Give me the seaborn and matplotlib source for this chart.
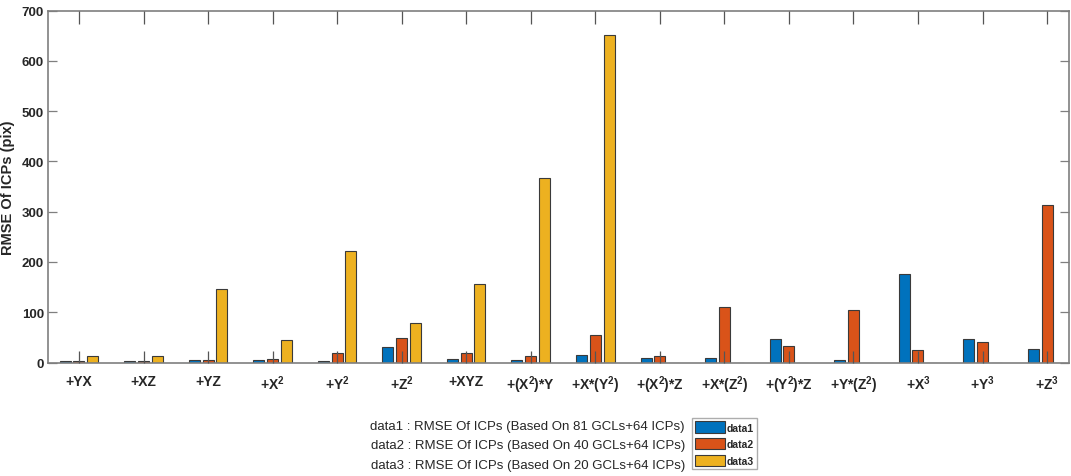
import pandas as pd
import seaborn as sns
import matplotlib.pyplot as plt

# Polynomial terms on the x axis
terms = ['+YX', '+XZ', '+YZ', '+X$^{2}$', '+Y$^{2}$', '+Z$^{2}$', '+XYZ',
         '+(X$^{2}$)*Y', '+X*(Y$^{2}$)', '+(X$^{2}$)*Z', '+X*(Z$^{2}$)',
         '+(Y$^{2}$)*Z', '+Y*(Z$^{2}$)', '+X$^{3}$', '+Y$^{3}$', '+Z$^{3}$']

# RMSE values
data1 = [3, 3, 4.5, 4.5, 3, 31, 6.5, 4.5, 14.5, 9, 8, 47, 4, 177, 46, 27]
data2 = [2, 2, 5, 6.5, 18, 48, 19, 13, 54, 13, 110, 32, 104, 24, 41, 314]
data3 = [12, 12, 146, 44, 222, 79, 157, 367, 651, 0, 0, 0, 0, 0, 0, 0]

series_names = ['data1', 'data2', 'data3']
descriptions = [
    'data1 : RMSE Of ICPs (Based On 81 GCLs+64 ICPs)',
    'data2 : RMSE Of ICPs (Based On 40 GCLs+64 ICPs)',
    'data3 : RMSE Of ICPs (Based On 20 GCLs+64 ICPs)',
]
yticks = [0, 100, 200, 300, 400, 500, 600, 700]

palette = {'data1': '#0072BD', 'data2': '#D95319', 'data3': '#EDB120'}

rows = []
for name, vals in zip(series_names, [data1, data2, data3]):
    for t, v in zip(terms, vals):
        rows.append({'term': t, 'value': v, 'series': name})
df = pd.DataFrame(rows)

sns.set_theme(style="ticks")
plt.rcParams['font.family'] = ['Liberation Sans', 'DejaVu Sans']
plt.rcParams['mathtext.fontset'] = 'custom'
plt.rcParams['mathtext.rm'] = 'Liberation Sans:bold'
plt.rcParams['mathtext.default'] = 'rm'

fig = plt.figure(figsize=(10.71, 4.77), dpi=100)
ax = fig.add_axes([48 / 1071, 1 - 363.5 / 477, (1069 - 48) / 1071, (363.5 - 11.7) / 477])

sns.barplot(data=df, x='term', y='value', hue='series', palette=palette,
            width=0.64, gap=0.2, edgecolor='#3a3a3a', linewidth=0.8,
            saturation=1, errorbar=None, ax=ax, legend=True)

ax.set_xlim(-0.48, 15.34)
ax.set_ylim(0, 700)
ax.set_yticks(yticks)
ax.set_axisbelow(False)

gray = '#7f7f7f'
for s in ax.spines.values():
    s.set_visible(True)
    s.set_color(gray)
    s.set_linewidth(1.2)

ax.tick_params(axis='x', direction='in', length=9, width=0.9, color='#555555',
               top=True, bottom=True, pad=8, labelsize=10)
ax.tick_params(axis='y', direction='in', length=6.5, width=0.9, color=gray,
               left=True, right=True, labelsize=9.5, pad=3)
for lbl in ax.get_xticklabels() + ax.get_yticklabels():
    lbl.set_fontweight('bold')
    lbl.set_color('#262626')

ax.set_xlabel('')
ax.set_ylabel('RMSE Of ICPs (pix)', fontsize=10.5, fontweight='bold', color='#262626')
ax.yaxis.set_label_coords((15 - 48) / 1021, 0.5)

# legend moved below the axes, description lines on its left
handles, labels = ax.get_legend_handles_labels()
ax.get_legend().remove()
fig.legend(handles, labels, loc='lower left',
           bbox_to_anchor=(692 / 1071, 7 / 477),
           handlelength=2.9, handleheight=1.3, handletextpad=0.1,
           labelspacing=0.5, borderpad=0.3, borderaxespad=0, frameon=True,
           fancybox=False, edgecolor='#999999', prop={'weight': 'bold', 'size': 7.5})

for i, txt in enumerate(descriptions):
    fig.text(685 / 1071, 1 - (427 + 19.5 * i) / 477, txt, ha='right', va='center',
             fontsize=9.5, color='#262626')

fig.savefig('out.png', dpi=100)
